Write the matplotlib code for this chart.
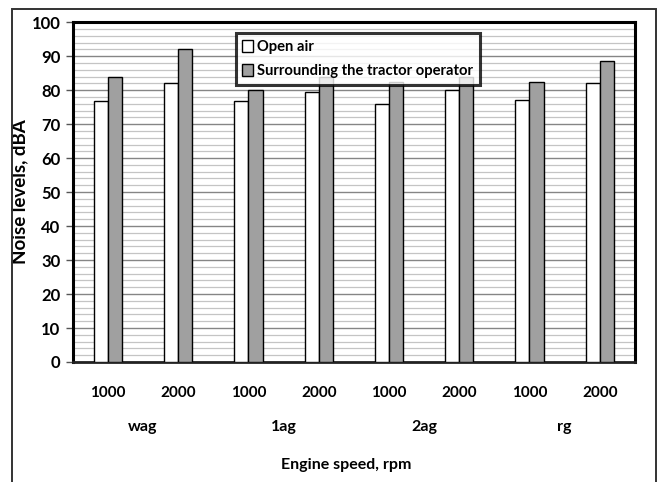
import matplotlib.pyplot as plt
import numpy as np
from matplotlib.patches import Rectangle
from matplotlib.ticker import MultipleLocator

plt.rcParams['font.family'] = ['Lato', 'DejaVu Sans']
plt.rcParams['font.weight'] = 'bold'
plt.rcParams['axes.labelweight'] = 'bold'

gears = ['wag', '1ag', '2ag', 'rg']
speeds = ['1000', '2000']
open_air = [76.8, 82.2, 76.8, 79.5, 75.8, 80.0, 77.2, 82.0]
operator = [83.9, 92.2, 80.0, 84.0, 82.5, 84.0, 82.4, 88.5]

fig = plt.figure(figsize=(6.62, 4.82), dpi=100)
ax = fig.add_axes([0.110, 0.249, 0.849, 0.705])

x = np.arange(len(open_air))
w = 0.2
ax.bar(x - w / 2, open_air, w, color='white', edgecolor='black', linewidth=1.0,
       label='Open air', zorder=3)
ax.bar(x + w / 2, operator, w, color='#a0a0a0', edgecolor='black', linewidth=1.0,
       label='Surrounding the tractor operator', zorder=3)

ax.set_xlim(-0.5, len(x) - 0.5)
ax.set_ylim(0, 100)
ax.yaxis.set_major_locator(MultipleLocator(10))
ax.yaxis.set_minor_locator(MultipleLocator(2))
ax.grid(axis='y', which='minor', color='#c4c4c4', linewidth=0.9, zorder=1)
ax.grid(axis='y', which='major', color='#858585', linewidth=1.0, zorder=1)
ax.tick_params(axis='y', which='major', length=5, width=1.0, color='#555555',
               labelsize=12, pad=4)
ax.tick_params(axis='y', which='minor', length=0)

ax.set_xticks(x)
ax.set_xticklabels(speeds * len(gears), fontsize=11)
ax.tick_params(axis='x', length=0, pad=17)
for i, g in enumerate(gears):
    ax.text(2 * i + 0.5, -0.19, g, transform=ax.get_xaxis_transform(),
            ha='center', va='center', fontsize=11.5)

for side in ['top', 'right', 'left']:
    ax.spines[side].set_linewidth(2.2)
    ax.spines[side].set_color('black')
ax.spines['bottom'].set_linewidth(2.0)
ax.spines['bottom'].set_color('#222222')

ax.set_ylabel('Noise levels, dBA', fontsize=13.5, labelpad=2)
fig.text(0.523, 0.035, 'Engine speed, rpm', ha='center', va='center', fontsize=11.5)

leg = ax.legend(loc='upper left', bbox_to_anchor=(0.29, 0.967), fontsize=10.6,
                frameon=True, fancybox=False, borderpad=0.45, labelspacing=0.68,
                handlelength=0.7, handleheight=0.9, handletextpad=0.3,
                borderaxespad=0)
leg.get_frame().set_edgecolor('black')
leg.get_frame().set_linewidth(2.2)
leg.set_zorder(5)

# outer frame around the whole chart
fig.patches.append(Rectangle((12 / 662, -0.05), 644 / 662, 1.05 - 9 / 482,
                             transform=fig.transFigure, fill=False,
                             edgecolor='#333333', linewidth=1.4))

fig.savefig('out.png', dpi=100)
